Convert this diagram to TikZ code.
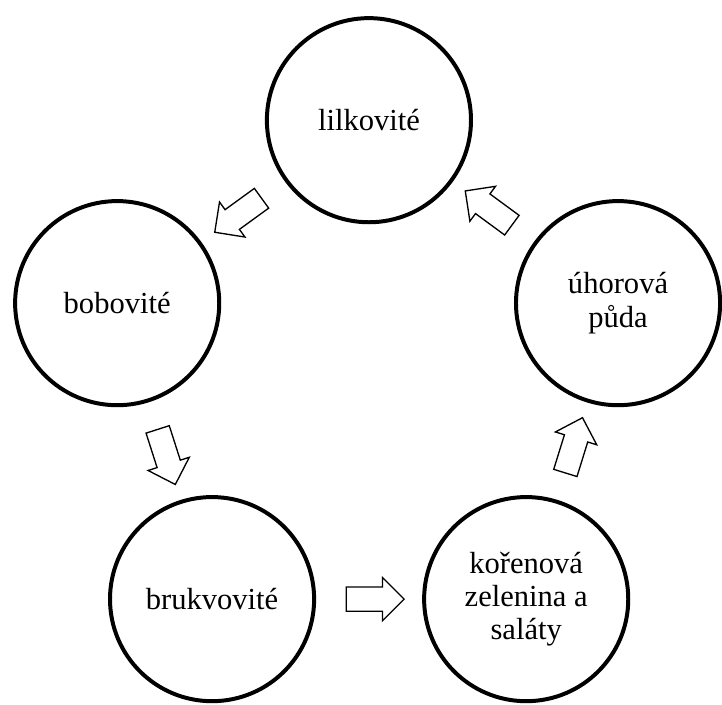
\documentclass[tikz,border=0pt]{standalone}
\usepackage{fontspec}
\setmainfont{Liberation Serif}
\usetikzlibrary{shapes.arrows}
\tikzstyle{crop}=[circle,draw,line width=3pt,minimum size=5.4cm,inner sep=0pt,align=center,font=\fontsize{23}{25}\selectfont]
\tikzstyle{blockarrow}=[single arrow,draw,fill=white,line width=1pt,minimum height=1.53cm,inner xsep=0pt,inner ysep=0.305cm,single arrow head extend=0.25cm,sloped,allow upside down]

\begin{document}
\begin{tikzpicture}
\useasboundingbox (0, 0) rectangle (19.1, 18.63);
\node[crop] at (9.76, 15.45) (lilk) {lilkovité};
\node[crop] at (3.10, 10.61) (bob) {bobovité};
\node[crop] at (16.35, 10.61) (uhor) {úhorová\\půda};
\node[crop] at (5.61, 2.78) (bruk) {brukvovité};
\node[crop] at (13.92, 2.78) (kor) {kořenová\\zelenina a\\saláty};

% osevni postup
\path (lilk) -- node[blockarrow] {} (bob);
\path (bob) -- node[blockarrow] {} (bruk);
\path (bruk) -- node[blockarrow] {} (kor);
\path (kor) -- node[blockarrow] {} (uhor);
\path (uhor) -- node[blockarrow] {} (lilk);
\end{tikzpicture}
\end{document}
